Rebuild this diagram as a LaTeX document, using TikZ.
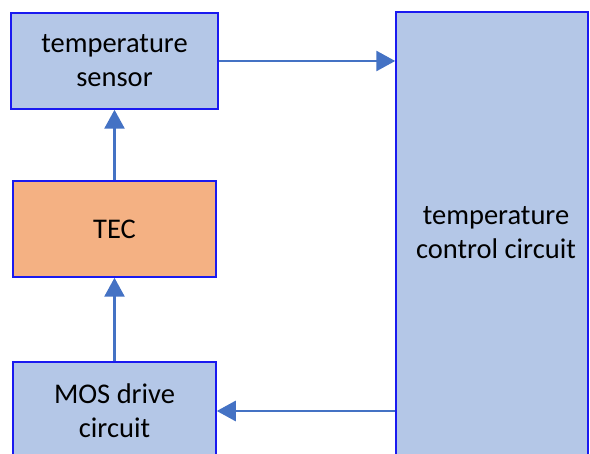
\documentclass[tikz,border=0pt]{standalone}
\usepackage{fontspec}
\setmainfont{Carlito}
\usetikzlibrary{arrows.meta}
\definecolor{boxblue}{HTML}{B4C7E7}
\definecolor{tecorange}{HTML}{F4B183}
\definecolor{edgeblue}{HTML}{1A1AF0}
\definecolor{arrowblue}{HTML}{4472C4}
\begin{document}
\begin{tikzpicture}[x=1pt,y=-1pt,
  blockbox/.style={draw=edgeblue, line width=1.5pt, fill=boxblue, inner sep=0pt,
    align=center, font=\fontsize{28.5}{34}\selectfont},
  conn/.style={draw=arrowblue, line width=2.8pt, -{Triangle[length=19pt,width=20pt]}}]
\useasboundingbox (0,0) rectangle (590,454);
\begin{scope}
\clip (0,0) rectangle (590,454);
\node[blockbox, minimum width=207pt, minimum height=96pt] (sensor) at (114.5,61) {temperature\\sensor};
\node[blockbox, fill=tecorange, minimum width=203pt, minimum height=96pt] (tec) at (114.5,229) {TEC};
\node[blockbox, minimum width=203pt, minimum height=98pt] (mos) at (114.5,411) {MOS drive\\circuit};
\node[blockbox, minimum width=192pt, minimum height=452pt] (ctrl) at (492,238) {};
\node[font=\fontsize{28.5}{34}\selectfont, align=center] (ctrltext) at (496,233) {temperature\\control circuit};
\end{scope}
\draw[conn] (tec.north) -- (sensor.south);
\draw[conn] (mos.north) -- (tec.south);
\draw[conn] (sensor.east) -- (ctrl.west |- sensor.east);
\draw[conn] (ctrl.west |- mos.east) -- (mos.east);
\end{tikzpicture}
\end{document}
